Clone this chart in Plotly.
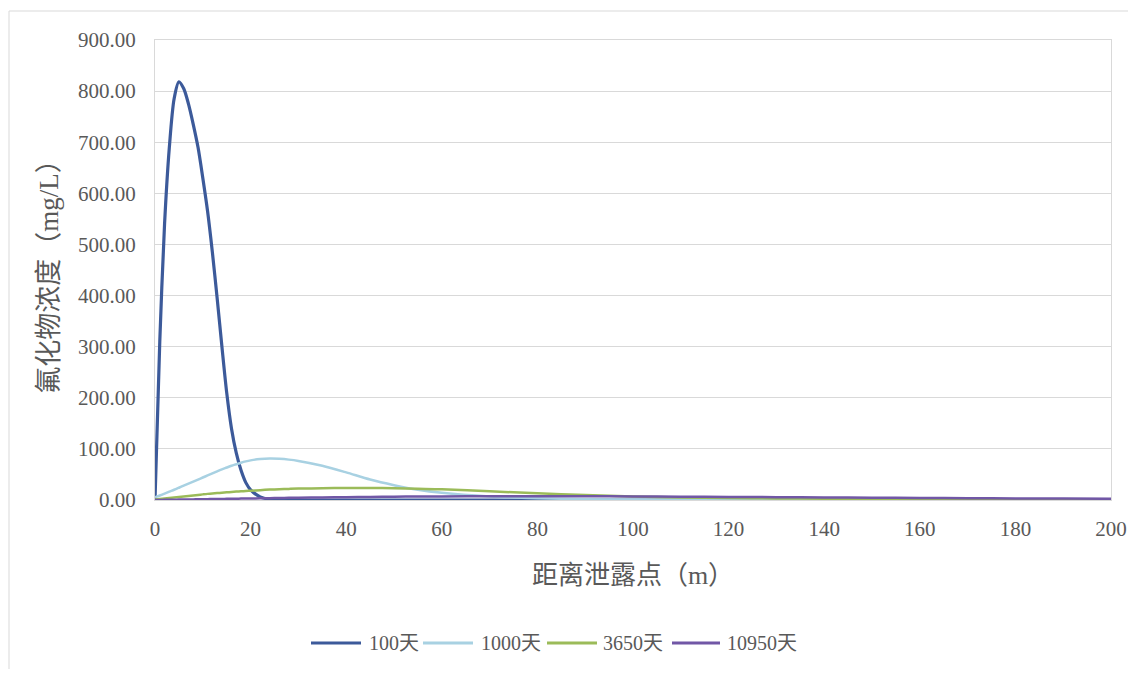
import plotly.graph_objects as go

x_vals = [0, 1, 2, 3, 4, 5, 6, 7, 8, 9, 10, 11, 12, 13, 14, 15, 16, 17, 18, 19, 20,
          22, 24, 26, 28, 30, 35, 40, 45, 50, 55, 60,
          70, 80, 90, 100, 110, 120, 130, 140, 150, 160, 170, 180, 190, 200]

series_names = ["100天", "1000天", "3650天", "10950天"]

c_100 = [0, 310, 540, 690, 785, 818, 805, 775, 735, 690, 630, 565, 485, 395, 300, 210, 140, 92, 58, 34, 20,
         6, 1.5, 0.4, 0.1, 0, 0, 0, 0, 0, 0, 0,
         0, 0, 0, 0, 0, 0, 0, 0, 0, 0, 0, 0, 0, 0]

c_1000 = [5, 8.8, 12.5, 16.3, 20, 24, 28, 32, 36, 40, 44, 48, 52, 56, 60, 63.5, 67, 70, 73, 75.5, 77.5,
          80, 81, 80.5, 79, 76.5, 67, 54, 40, 29, 20, 14,
          7, 3.5, 1.7, 0.8, 0.4, 0.2, 0.1, 0.1, 0.1, 0.1, 0.1, 0.1, 0.1, 0.1]

c_3650 = [1, 2, 3, 4, 5, 6, 7, 8, 9, 10, 11, 12, 12.8, 13.5, 14.2, 15, 15.7, 16.4, 17, 17.6, 18.2,
          19.3, 20.3, 21, 21.7, 22.3, 23, 23.5, 23.5, 23, 22, 21,
          17, 13, 10, 7, 5, 4, 3, 2.5, 2, 1.5, 1.2, 1, 0.8, 0.6]

c_10950 = [0, 0.15, 0.3, 0.45, 0.6, 0.75, 0.9, 1.05, 1.2, 1.35, 1.5, 1.65, 1.8, 1.95, 2.1, 2.25, 2.4, 2.55, 2.7, 2.85, 3,
           3.3, 3.6, 3.9, 4.2, 4.5, 5, 5.5, 6, 6.5, 6.8, 7,
           7.5, 7.5, 7.5, 7, 6.5, 6, 5.5, 5, 4.5, 4, 3.5, 3, 2.7, 2.4]

colors = ["#3c5a9a", "#a8d1e2", "#9bbb59", "#7157a6"]
widths = [3.2, 2.5, 2.5, 2.5]

y_ticks = [0, 100, 200, 300, 400, 500, 600, 700, 800, 900]
x_ticks = [0, 20, 40, 60, 80, 100, 120, 140, 160, 180, 200]

font_fam = "Liberation Serif, Noto Sans CJK SC, serif"
text_col = "#595959"

# page-pixel helpers for the plot area (page has an 8px body margin)
PL, PR, PT, PB = 155, 1111, 40, 500


def px(x):
    return (x - PL) / (PR - PL)


def py(y):
    return (PB - y) / (PB - PT)


fig = go.Figure()
for name, vals, col, w in zip(series_names, [c_100, c_1000, c_3650, c_10950], colors, widths):
    fig.add_trace(go.Scatter(
        x=x_vals, y=vals, name=name, mode="lines",
        line=dict(color=col, width=w, shape="spline", smoothing=0.8),
        showlegend=False,
    ))

# custom legend (line samples + labels), positioned like the reference
legend_items = [(311, 361, 367), (423, 473, 479), (547, 597, 601), (672, 720, 725)]
shapes = [
    dict(type="line", xref="paper", yref="paper", x0=px(9), x1=px(1130), y0=py(11), y1=py(11),
         line=dict(color="#d9d9d9", width=1)),
    dict(type="line", xref="paper", yref="paper", x0=px(9), x1=px(9), y0=py(11), y1=py(670),
         line=dict(color="#d9d9d9", width=1)),
]
annotations = []
ly = py(643)
for (x0, x1, tx), name, col in zip(legend_items, series_names, colors):
    shapes.append(dict(type="line", xref="paper", yref="paper", x0=px(x0), x1=px(x1), y0=ly, y1=ly,
                       line=dict(color=col, width=3)))
    annotations.append(dict(xref="paper", yref="paper", x=px(tx), y=ly, xanchor="left", yanchor="middle",
                            text=name, showarrow=False,
                            font=dict(family=font_fam, size=20, color=text_col)))

fig.update_layout(
    width=1120, height=661,
    margin=dict(l=PL - 8, r=1128 - PR, t=PT - 8, b=669 - PB, autoexpand=False),
    paper_bgcolor="white", plot_bgcolor="white",
    font=dict(family=font_fam, size=21, color=text_col),
    showlegend=False,
    shapes=shapes,
    annotations=annotations,
)

fig.update_xaxes(
    range=[0, 200], tickvals=x_ticks, ticktext=[str(v) for v in x_ticks],
    showgrid=False, showline=True, linecolor="#d9d9d9", mirror=True, zeroline=False,
    automargin=False,
    ticks="", ticklabelstandoff=10, tickfont=dict(size=21, color=text_col, family=font_fam),
    title=dict(text="距离泄露点（m）", font=dict(size=26, color=text_col, family=font_fam), standoff=25),
)
fig.update_yaxes(
    range=[0, 900], tickvals=y_ticks, ticktext=[f"{v:.2f}" for v in y_ticks],
    showgrid=True, gridcolor="#d9d9d9", gridwidth=1,
    showline=True, linecolor="#d9d9d9", mirror=True, zeroline=False,
    automargin=False,
    ticks="", ticklabelstandoff=14, tickfont=dict(size=21, color=text_col, family=font_fam),
    title=dict(text="氟化物浓度（mg/L）", font=dict(size=27, color=text_col, family=font_fam), standoff=11),
)

fig.write_html("out.html")
